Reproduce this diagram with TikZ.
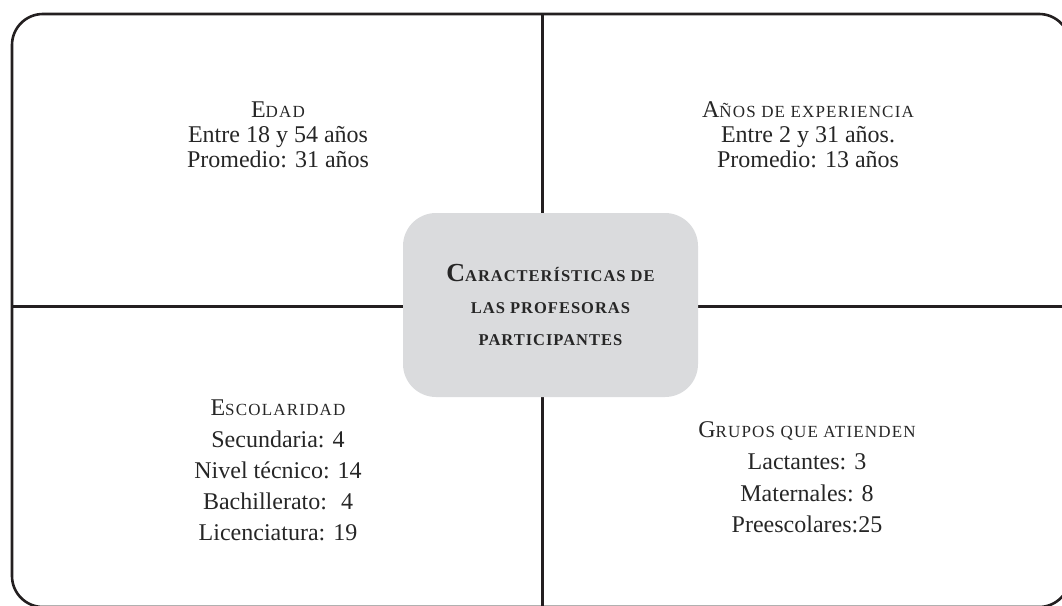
\documentclass[tikz,border=0pt]{standalone}
\usepackage{fontspec}
\setmainfont{Liberation Serif}
\newfontfamily\scf[LetterSpace=7]{Liberation Serif}
\newfontfamily\scbf[LetterSpace=6]{Liberation Serif Bold}
\definecolor{ink}{RGB}{35,31,32}
\definecolor{txt}{RGB}{38,38,38}
\definecolor{boxgray}{RGB}{218,219,221}
\newcommand\SCt[2]{{\fontsize{24}{24}\selectfont #1}{\scf\fontsize{17}{17}\selectfont #2}}
\newcommand\SCb[2]{{\bfseries\fontsize{26}{26}\selectfont #1}{\scbf\fontsize{16.5}{16.5}\selectfont #2}}
\newcommand\SCbs[1]{{\scbf\fontsize{16.5}{16.5}\selectfont #1}}
\begin{document}
\begin{tikzpicture}[x=1pt,y=-1pt,
  framebox/.style={draw=ink, line width=2.6pt, rounded corners=31pt},
  rule/.style={draw=ink, line width=2.6pt},
  body/.style={anchor=base, inner sep=0pt, text=txt, font=\fontsize{24}{24}\selectfont},
  hubbox/.style={fill=boxgray, rounded corners=33pt, minimum width=295pt, minimum height=184pt,
    inner sep=0pt, align=center, text=txt, font=\fontsize{16.5}{32}\selectfont}]
\useasboundingbox (0,0) rectangle (1062,605);
\coordinate (top) at (542.7,14);
\coordinate (bot) at (542.7,607);
\coordinate (lft) at (12,306.7);
\coordinate (rgt) at (1070,306.7);
\begin{scope}
  \clip (0,0) rectangle (1062,605);
  \draw[framebox] (12,14) rectangle (1070,607);
  \draw[rule] (top) -- (bot);
  \draw[rule] (lft) -- (rgt);
\end{scope}
\node[hubbox] (hub) at (550.5,305) {\SCb{C}{ARACTERÍSTICAS DE}\\ \SCbs{LAS PROFESORAS}\\ \SCbs{PARTICIPANTES}};
% top left
\node[body] (ed0) at (278,117) {\SCt{E}{DAD}};
\node[body] (ed1) at (278,142) {Entre 18 y 54 años};
\node[body] (ed2) at (278,167) {Promedio: 31 años};
% top right
\node[body] (ex0) at (808,117) {\SCt{A}{ÑOS DE EXPERIENCIA}};
\node[body] (ex1) at (808,142) {Entre 2 y 31 años.};
\node[body] (ex2) at (808,167) {Promedio: 13 años};
% bottom left
\node[body] (es0) at (278,415) {\SCt{E}{SCOLARIDAD}};
\node[body] (es1) at (278,447) {Secundaria: 4};
\node[body] (es2) at (278,478) {Nivel técnico: 14};
\node[body] (es3) at (278,509) {Bachillerato:~ 4};
\node[body] (es4) at (278,540) {Licenciatura: 19};
% bottom right
\node[body] (gr0) at (807,437) {\SCt{G}{RUPOS QUE ATIENDEN}};
\node[body] (gr1) at (807,469) {Lactantes: 3};
\node[body] (gr2) at (807,501) {Maternales: 8};
\node[body] (gr3) at (807,532) {Preescolares:25};
\end{tikzpicture}
\end{document}
